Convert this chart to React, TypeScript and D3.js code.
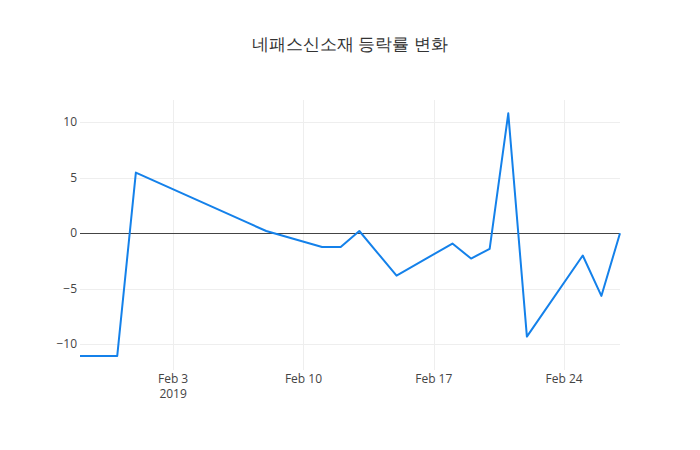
import * as React from 'react';
import * as d3 from 'd3';

// trading days and daily change (%)
const dates: string[] = [
    '2019-01-29', '2019-01-30', '2019-01-31', '2019-02-01', '2019-02-07', '2019-02-08',
    '2019-02-11', '2019-02-12', '2019-02-13', '2019-02-14', '2019-02-15', '2019-02-18',
    '2019-02-19', '2019-02-20', '2019-02-21', '2019-02-22', '2019-02-25', '2019-02-26',
    '2019-02-27',
];
const changes: number[] = [
    -11.05, -11.05, -11.05, 5.46, 0.95, 0.2,
    -1.24, -1.24, 0.2, -1.81, -3.82, -0.93,
    -2.28, -1.41, 10.8, -9.31, -2.01, -5.65,
    0,
];
const yTicks: number[] = [-10, -5, 0, 5, 10];
const xTicks: string[] = ['2019-02-03', '2019-02-10', '2019-02-17', '2019-02-24'];

const title = '네패스신소재 등락률 변화';

const W = 700;
const H = 450;
const margin = { l: 80, r: 80, t: 100, b: 80 };
const font = '"Open Sans", verdana, arial, sans-serif';

const App = () => {
    const parse = d3.utcParse('%Y-%m-%d');
    const pts = dates.map((d, i) => ({ date: parse(d) as Date, value: changes[i] }));

    const x = d3.scaleUtc()
        .domain(d3.extent(pts, (p) => p.date) as [Date, Date])
        .range([margin.l, W - margin.r]);
    const y = d3.scaleLinear()
        .domain([-12.32, 12.0])
        .range([H - margin.b, margin.t]);

    const line = d3.line<{ date: Date; value: number }>()
        .x((p) => x(p.date))
        .y((p) => y(p.value));

    const fmt = d3.utcFormat('%b %-d');
    const top = margin.t;
    const bottom = H - margin.b;
    const crisp = (v: number) => Math.round(v) + 0.5;

    return (
        <svg width={W} height={H} style={{ position: 'absolute', left: 0, top: 0, background: '#fff' }}>
            <rect x={0} y={0} width={W} height={H} fill="#fff" />
            <text x={W / 2} y={50} textAnchor="middle" fontFamily={font} fontSize={17} fill="#333">
                {title}
            </text>
            {/* grid */}
            {xTicks.map((t) => (
                <line key={'gx' + t} x1={crisp(x(parse(t) as Date))} x2={crisp(x(parse(t) as Date))}
                    y1={top} y2={bottom} stroke="#eee" strokeWidth={1} />
            ))}
            {yTicks.filter((t) => t !== 0).map((t) => (
                <line key={'gy' + t} x1={margin.l} x2={W - margin.r}
                    y1={crisp(y(t))} y2={crisp(y(t))} stroke="#eee" strokeWidth={1} />
            ))}
            <line x1={margin.l} x2={W - margin.r} y1={crisp(y(0))} y2={crisp(y(0))} stroke="#444" strokeWidth={1} />
            <path d={line(pts) || ''} fill="none" stroke="#1481ea" strokeWidth={2} strokeLinejoin="round" />
            {/* y labels */}
            {yTicks.map((t) => (
                <text key={'ly' + t} x={margin.l - 3} y={y(t) + 4} textAnchor="end"
                    fontFamily={font} fontSize={12} fill="#444">
                    {t < 0 ? '\u2212' + Math.abs(t) : String(t)}
                </text>
            ))}
            {/* x labels */}
            {xTicks.map((t) => (
                <text key={'lx' + t} x={x(parse(t) as Date)} y={bottom + 13} textAnchor="middle"
                    fontFamily={font} fontSize={12} fill="#444">
                    {fmt(parse(t) as Date)}
                </text>
            ))}
            <text x={x(parse(xTicks[0]) as Date)} y={bottom + 28} textAnchor="middle"
                fontFamily={font} fontSize={12} fill="#444">
                2019
            </text>
        </svg>
    );
};

export default App;
